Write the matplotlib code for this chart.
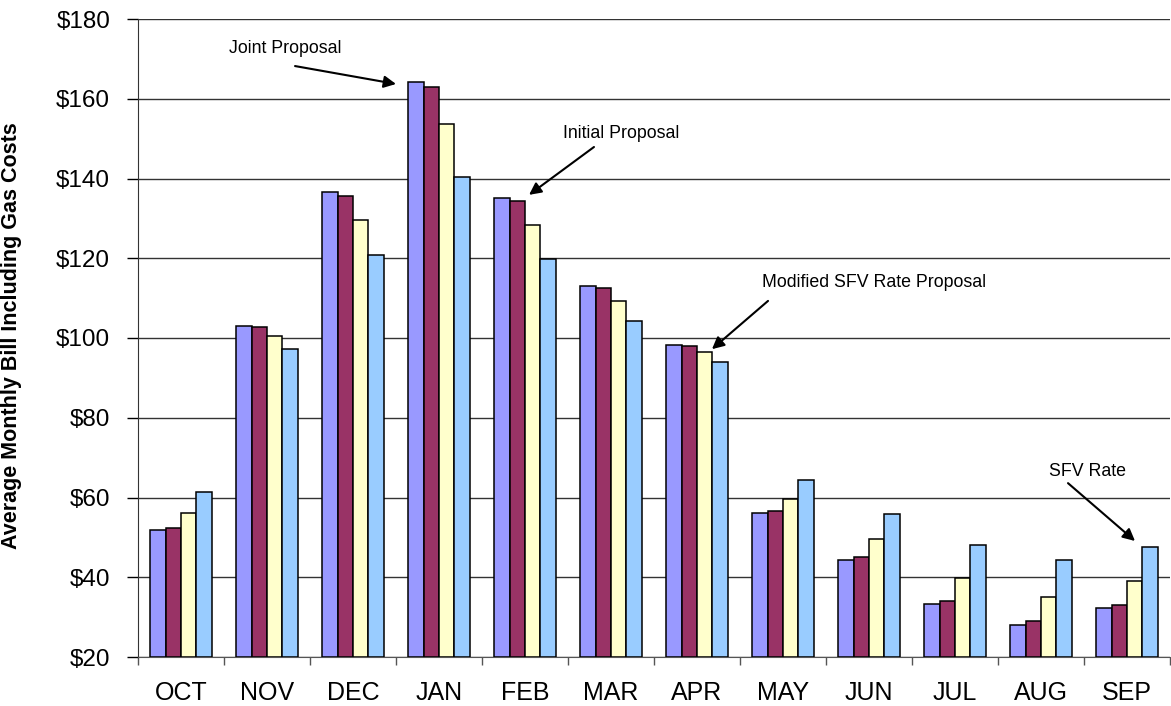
import matplotlib.pyplot as plt
import numpy as np

plt.rcParams['font.family'] = ['Liberation Sans', 'DejaVu Sans']

# months and monthly bill per proposal
months = ["OCT", "NOV", "DEC", "JAN", "FEB", "MAR", "APR", "MAY", "JUN", "JUL", "AUG", "SEP"]
joint_proposal = [51.8, 103.0, 136.5, 164.3, 135.0, 113.0, 98.2, 56.0, 44.3, 33.3, 28.0, 32.3]
initial_proposal = [52.3, 102.7, 135.7, 162.9, 134.3, 112.5, 98.0, 56.6, 45.0, 34.1, 29.0, 33.1]
modified_sfv = [56.0, 100.4, 129.6, 153.7, 128.3, 109.2, 96.4, 59.7, 49.5, 39.7, 35.1, 39.1]
sfv_rate = [61.3, 97.2, 120.8, 140.3, 119.8, 104.3, 93.9, 64.3, 55.9, 48.2, 44.4, 47.6]

series = [joint_proposal, initial_proposal, modified_sfv, sfv_rate]
colors = ["#9999FF", "#993366", "#FFFFCC", "#99CCFF"]
y_ticks = np.arange(20, 181, 20)

fig = plt.figure(figsize=(11.71, 7.06), dpi=100)
ax = fig.add_axes([138 / 1171, 49 / 706, 1032 / 1171, 638 / 706])

x = np.arange(len(months))
w = 0.18
for k, (vals, col) in enumerate(zip(series, colors)):
    ax.bar(x + (k - 1.5) * w, np.array(vals) - 20, bottom=20, width=w,
           color=col, edgecolor="black", linewidth=1.1, zorder=3)

ax.set_xlim(-0.5, len(months) - 0.5)
ax.set_ylim(20, 180)
ax.set_yticks(y_ticks)
ax.set_yticklabels(["$%d" % v for v in y_ticks])
ax.yaxis.grid(True, color="#333333", linewidth=1.0, zorder=0)

ax.set_xticks(x)
ax.set_xticklabels(months)
ax.set_xticks(np.arange(-0.5, len(months)), minor=True)
ax.tick_params(axis="x", which="major", length=0, pad=17, labelsize=18)
ax.tick_params(axis="x", which="minor", length=6, width=1, color="#555555")
ax.tick_params(axis="y", length=8, width=1, pad=12, labelsize=17.5)

for s in ["top", "right"]:
    ax.spines[s].set_visible(False)
ax.spines["left"].set_color("#333333")
ax.spines["bottom"].set_color("#555555")

ax.set_ylabel("Average Monthly Bill Including Gas Costs", fontsize=15.5, fontweight="bold")
ax.yaxis.set_label_coords(-0.112, 0.504)

arrow = dict(arrowstyle="-|>", color="black", lw=1.5, mutation_scale=18, shrinkA=0, shrinkB=0)
notes = [
    ("Joint Proposal", (1.209, 172.7), (1.326, 168.2), (2.50, 163.7)),
    ("Initial Proposal", (5.116, 151.2), (4.802, 147.9), (4.047, 135.9)),
    ("Modified SFV Rate Proposal", (8.058, 114.0), (6.826, 109.3), (6.174, 97.2)),
    ("SFV Rate", (10.535, 66.4), (10.314, 63.6), (11.093, 49.1)),
]
for label, txt, tail, head in notes:
    ax.text(txt[0], txt[1], label, ha="center", va="center", fontsize=12.8, zorder=5)
    ax.annotate("", xy=head, xytext=tail, arrowprops=arrow, zorder=5)

fig.savefig("out.png", dpi=100)
